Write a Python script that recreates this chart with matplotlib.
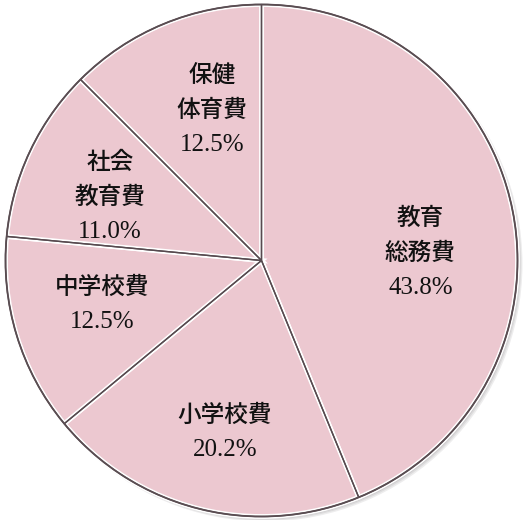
import numpy as np
import matplotlib.pyplot as plt
from matplotlib.patches import Circle

# --- datos ---
names = ['教育\n総務費', '小学校費', '中学校費', '社会\n教育費', '保健\n体育費']
shares = [43.8, 20.2, 12.5, 11.0, 12.5]
pct_labels = ['43.8%', '20.2%', '12.5%', '11.0%', '12.5%']

# --- layout (pixels) ---
R = 256
label_r = [159, 176, 165, 164, 158]
label_dang = [-8.5, 2.0, -1.6, 2.5, -4.3]
line_gap = 35

fig = plt.figure(figsize=(5.25, 5.2), dpi=100)
ax = fig.add_axes([0, 0, 1, 1])

# soft shadow bottom-right
for i, a in enumerate([0.10, 0.10, 0.12, 0.15]):
    off = 3.5 - i * 0.8
    ax.add_patch(Circle((off, -off), R + 1.5 - i * 0.4, color='#555055',
                        alpha=a, lw=0, zorder=0))

wedges, _ = ax.pie(shares, radius=R, startangle=90, counterclock=False,
                   colors=['#ecc8d0'] * len(shares),
                   wedgeprops=dict(edgecolor='white', linewidth=3.5))
for w in wedges:
    w.set_zorder(1)

# dark seam lines on top of white bevel
ax.pie(shares, radius=R, startangle=90, counterclock=False,
       colors=['none'] * len(shares),
       wedgeprops=dict(edgecolor='#574a4f', linewidth=1.0, fill=False, zorder=2))
ax.add_patch(Circle((0, 0), R, fill=False, ec='#5a4d52', lw=1.3, zorder=3))

jp = ['Noto Sans CJK JP', 'DejaVu Sans']
for w, name, pct, r, da in zip(wedges, names, pct_labels, label_r, label_dang):
    ang = np.deg2rad((w.theta1 + w.theta2) / 2 + da)
    x, y = r * np.cos(ang), r * np.sin(ang)
    lines = name.split('\n')
    n = len(lines) + 1
    top = y + line_gap * (n - 1) / 2
    for k, ln in enumerate(lines):
        ax.text(x, top - k * line_gap, ln, ha='center', va='center',
                family=jp, fontsize=17, fontweight='medium',
                color='#111111', zorder=5)
    ax.text(x, top - (n - 1) * line_gap, pct, ha='center', va='center',
            family=['Liberation Serif', 'DejaVu Serif'], fontsize=18,
            color='#111111', zorder=5)

ax.set_xlim(-261.5, 263.5)
ax.set_ylim(-259.5, 260.5)
ax.set_aspect('equal')
ax.axis('off')

fig.savefig('out.png', dpi=100, facecolor='white')
